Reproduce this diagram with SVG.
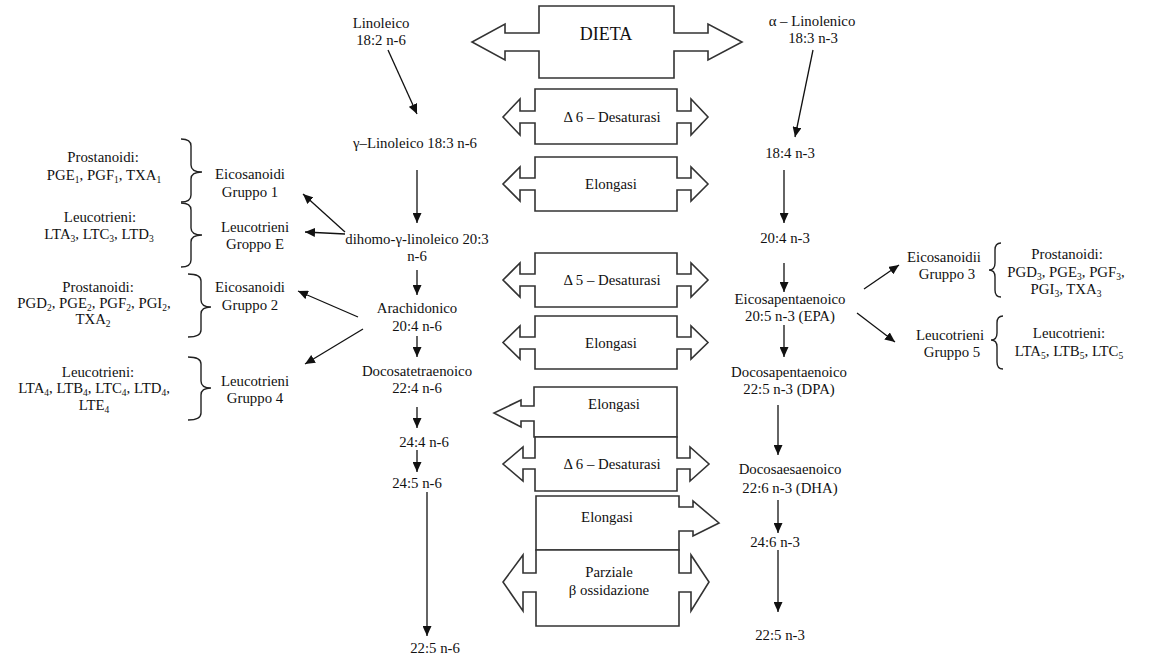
<svg xmlns="http://www.w3.org/2000/svg" width="1164" height="658" viewBox="0 0 1164 658">
<defs>
<marker id="ah" markerUnits="userSpaceOnUse" markerWidth="11" markerHeight="9" refX="10" refY="4.5" orient="auto">
<path d="M0,0 L10,4.5 L0,9 Z" fill="#111"/>
</marker>
<style>
text{font-family:'Liberation Serif','Tinos','Times New Roman','DejaVu Serif',serif;font-size:14.8px;fill:#111;text-anchor:middle}
.big{font-size:18px}
.blk{fill:#fff;stroke:#333;stroke-width:1.6;stroke-linejoin:miter}
.ar{stroke:#111;stroke-width:1.3;fill:none;marker-end:url(#ah)}
.br{stroke:#222;stroke-width:1.4;fill:none}
.s{font-size:9.5px}
</style>
</defs>
<rect width="1164" height="658" fill="#fff"/>

<g id="dieta">
<path class="blk" d="M539,6 H674 V33 H708 V24 L742,42 L708,60 V51 H674 V78 H539 V51 H505 V60 L472,42 L505,24 V33 H539 Z"/>
<text class="big" x="606" y="40">DIETA</text>
</g>
<g id="desat6a">
<path class="blk" d="M535,89 H677 V111 H691 V99 L708,117 L691,135 V123 H677 V144 H535 V123 H520 V135 L503,117 L520,99 V111 H535 Z"/>
<text x="612" y="122">Δ 6 – Desaturasi</text>
</g>
<g id="elong1">
<path class="blk" d="M535,157 H677 V178 H691 V167 L708,184 L691,201 V190 H677 V211 H535 V190 H520 V201 L503,184 L520,167 V178 H535 Z"/>
<text x="611" y="189">Elongasi</text>
</g>
<g id="desat5">
<path class="blk" d="M535,253 H677 V274 H691 V263 L708,280 L691,297 V286 H677 V307 H535 V286 H520 V297 L503,280 L520,263 V274 H535 Z"/>
<text x="612" y="285">Δ 5 – Desaturasi</text>
</g>
<g id="elong2">
<path class="blk" d="M535,316 H677 V337 H691 V326 L708,342.5 L691,359 V349 H677 V369 H535 V349 H520 V359 L503,342.5 L520,326 V337 H535 Z"/>
<text x="611" y="348">Elongasi</text>
</g>
<g id="elong3">
<path class="blk" d="M534,387 H677 V437 H534 V421 H521 V427 L494,413 L521,400 V406 H534 Z"/>
<text x="614" y="409">Elongasi</text>
</g>
<g id="desat6b">
<path class="blk" d="M535,437 H677 V458 H690 V447 L709,464 L690,481 V469 H677 V491 H535 V469 H523 V481 L503,464 L523,447 V458 H535 Z"/>
<text x="612" y="469">Δ 6 – Desaturasi</text>
</g>
<g id="elong4">
<path class="blk" d="M536,496 H679 V507 H693 V501 L719,523 L693,536 V531 H679 V550 H536 Z"/>
<text x="607" y="522">Elongasi</text>
</g>
<g id="beta">
<path class="blk" d="M536,550 H679 V573 H691 V555 L709,582 L691,611 V592 H679 V626 H536 V592 H523 V611 L503,582 L523,555 V573 H536 Z"/>
<text x="609" y="577">Parziale</text>
<text x="609" y="595">β ossidazione</text>
</g>

<g id="n6-chain">
<text x="381" y="28">Linoleico</text>
<text x="381" y="45">18:2 n-6</text>
<text x="415" y="148">γ–Linoleico 18:3 n-6</text>
<text x="417" y="244">dihomo-γ-linoleico 20:3</text>
<text x="417" y="261">n-6</text>
<text x="417" y="313">Arachidonico</text>
<text x="417" y="331">20:4 n-6</text>
<text x="417" y="376">Docosatetraenoico</text>
<text x="417" y="393">22:4 n-6</text>
<text x="424" y="447">24:4 n-6</text>
<text x="417" y="488">24:5 n-6</text>
<text x="435" y="653">22:5 n-6</text>
</g>

<g id="n3-chain">
<text x="812" y="26">α – Linolenico</text>
<text x="813" y="43">18:3 n-3</text>
<text x="790" y="158">18:4 n-3</text>
<text x="785" y="243">20:4 n-3</text>
<text x="790" y="304">Eicosapentaenoico</text>
<text x="790" y="321">20:5 n-3 (EPA)</text>
<text x="789" y="377">Docosapentaenoico</text>
<text x="789" y="394">22:5 n-3 (DPA)</text>
<text x="790" y="474">Docosaesaenoico</text>
<text x="790" y="493">22:6 n-3 (DHA)</text>
<text x="775" y="547">24:6 n-3</text>
<text x="780" y="640">22:5 n-3</text>
</g>

<g id="groups-left">
<text x="250" y="179">Eicosanoidi</text>
<text x="250" y="197">Gruppo 1</text>
<text x="255" y="232">Leucotrieni</text>
<text x="255" y="249">Groppo E</text>
<text x="250" y="292">Eicosanoidi</text>
<text x="250" y="310">Gruppo 2</text>
<text x="255" y="386">Leucotrieni</text>
<text x="255" y="403">Gruppo 4</text>
</g>

<g id="products-left">
<text x="103" y="162">Prostanoidi:</text>
<text x="104" y="180">PGE<tspan class="s" dy="3">1</tspan><tspan dy="-3">, PGF</tspan><tspan class="s" dy="3">1</tspan><tspan dy="-3">, TXA</tspan><tspan class="s" dy="3">1</tspan></text>
<text x="100" y="222">Leucotrieni:</text>
<text x="99" y="239">LTA<tspan class="s" dy="3">3</tspan><tspan dy="-3">, LTC</tspan><tspan class="s" dy="3">3</tspan><tspan dy="-3">, LTD</tspan><tspan class="s" dy="3">3</tspan></text>
<text x="98" y="292">Prostanoidi:</text>
<text x="94" y="308">PGD<tspan class="s" dy="3">2</tspan><tspan dy="-3">, PGE</tspan><tspan class="s" dy="3">2</tspan><tspan dy="-3">, PGF</tspan><tspan class="s" dy="3">2</tspan><tspan dy="-3">, PGI</tspan><tspan class="s" dy="3">2</tspan><tspan dy="-3">,</tspan></text>
<text x="93" y="324">TXA<tspan class="s" dy="3">2</tspan></text>
<text x="98" y="377">Leucotrieni:</text>
<text x="94" y="393">LTA<tspan class="s" dy="3">4</tspan><tspan dy="-3">, LTB</tspan><tspan class="s" dy="3">4</tspan><tspan dy="-3">, LTC</tspan><tspan class="s" dy="3">4</tspan><tspan dy="-3">, LTD</tspan><tspan class="s" dy="3">4</tspan><tspan dy="-3">,</tspan></text>
<text x="94" y="410">LTE<tspan class="s" dy="3">4</tspan></text>
</g>

<g id="groups-right">
<text x="944" y="262">Eicosanoidii</text>
<text x="947" y="279">Gruppo 3</text>
<text x="950" y="340">Leucotrieni</text>
<text x="952" y="357">Gruppo 5</text>
<text x="1067" y="259">Prostanoidi:</text>
<text x="1066" y="277">PGD<tspan class="s" dy="3">3</tspan><tspan dy="-3">, PGE</tspan><tspan class="s" dy="3">3</tspan><tspan dy="-3">, PGF</tspan><tspan class="s" dy="3">3</tspan><tspan dy="-3">,</tspan></text>
<text x="1066" y="294">PGI<tspan class="s" dy="3">3</tspan><tspan dy="-3">, TXA</tspan><tspan class="s" dy="3">3</tspan></text>
<text x="1069" y="338">Leucotrieni:</text>
<text x="1069" y="356">LTA<tspan class="s" dy="3">5</tspan><tspan dy="-3">, LTB</tspan><tspan class="s" dy="3">5</tspan><tspan dy="-3">, LTC</tspan><tspan class="s" dy="3">5</tspan></text>
</g>

<g id="braces">
<path class="br" d="M181,139 Q191,139 191,146 V165 Q191,172 202,172 Q191,172 191,179 V195 Q191,202 181,202"/>
<path class="br" d="M181,203 Q191,203 191,210 V228 Q191,235 202,235 Q191,235 191,242 V260 Q191,267 181,267"/>
<path class="br" d="M188,274 Q201,274 201,281 V300 Q201,307 211,307 Q201,307 201,314 V330 Q201,337 188,337"/>
<path class="br" d="M188,357 Q201,357 201,364 V381 Q201,388 211,388 Q201,388 201,395 V413 Q201,420 188,420"/>
<path class="br" d="M1001,243 Q995,243 995,250 V263 Q995,270 989,270 Q995,270 995,277 V290 Q995,297 1001,297"/>
<path class="br" d="M1003,316 Q997,316 997,323 V333 Q997,340 991,340 Q997,340 997,347 V362 Q997,369 1003,369"/>
</g>

<g id="connectors">
<line class="ar" x1="388" y1="50" x2="417" y2="114"/>
<line class="ar" x1="417" y1="170" x2="417" y2="223"/>
<line class="ar" x1="345" y1="232" x2="303" y2="194"/>
<line class="ar" x1="345" y1="234" x2="305" y2="232"/>
<line class="ar" x1="417" y1="270" x2="417" y2="295"/>
<line class="ar" x1="358" y1="317" x2="298" y2="291"/>
<line class="ar" x1="363" y1="329" x2="305" y2="364"/>
<line class="ar" x1="417" y1="336" x2="417" y2="357"/>
<line class="ar" x1="417" y1="407" x2="417" y2="428"/>
<line class="ar" x1="417" y1="450" x2="417" y2="472"/>
<line class="ar" x1="427" y1="492" x2="427" y2="636"/>
<line class="ar" x1="813" y1="50" x2="795" y2="137"/>
<line class="ar" x1="784" y1="170" x2="784" y2="223"/>
<line class="ar" x1="784" y1="263" x2="784" y2="292"/>
<line class="ar" x1="864" y1="289" x2="899" y2="265"/>
<line class="ar" x1="857" y1="313" x2="895" y2="342"/>
<line class="ar" x1="784" y1="325" x2="784" y2="357"/>
<line class="ar" x1="778" y1="405" x2="778" y2="455"/>
<line class="ar" x1="778" y1="500" x2="778" y2="533"/>
<line class="ar" x1="778" y1="550" x2="778" y2="612"/>
</g>
</svg>
